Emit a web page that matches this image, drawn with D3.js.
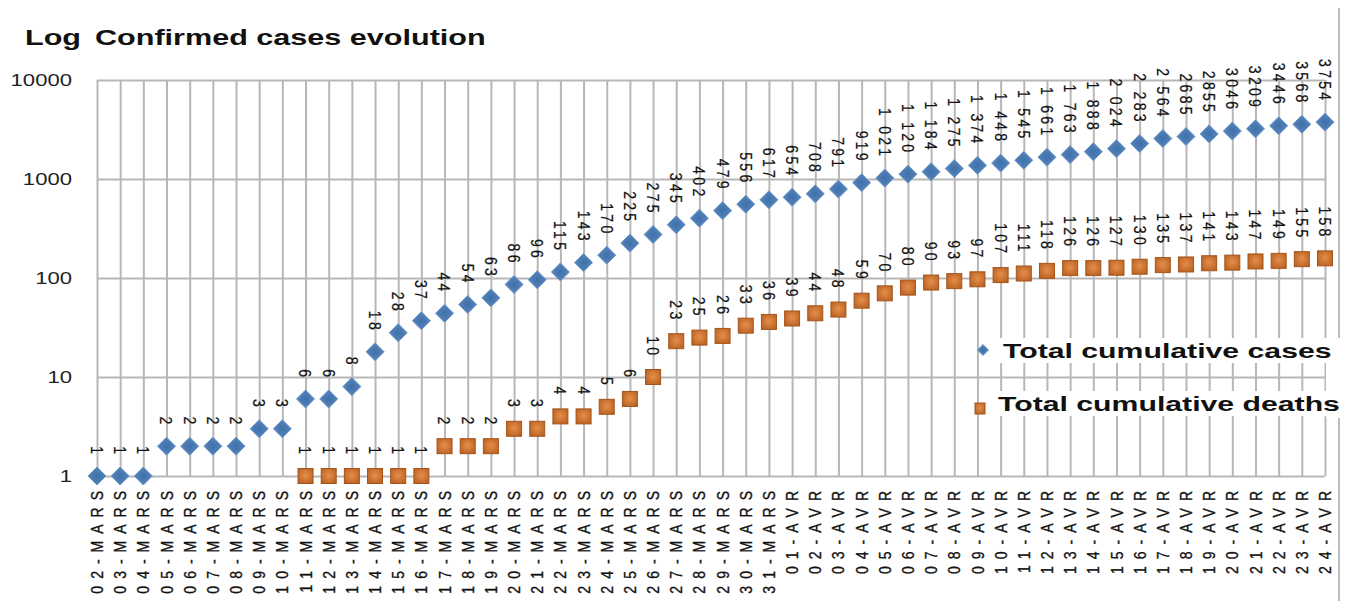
<!DOCTYPE html>
<html>
<head>
<meta charset="utf-8">
<script src="https://cdn.jsdelivr.net/npm/d3@7"></script>
<style>
  html, body { margin: 0; padding: 0; background: #ffffff; }
  svg { display: block; }
</style>
</head>
<body>
<svg id="chart" width="1357" height="601"></svg>
<script>
// Daily dates (March 2 – April 24)
const dates = [
  "02-MARS","03-MARS","04-MARS","05-MARS","06-MARS","07-MARS","08-MARS","09-MARS","10-MARS",
  "11-MARS","12-MARS","13-MARS","14-MARS","15-MARS","16-MARS","17-MARS","18-MARS","19-MARS",
  "20-MARS","21-MARS","22-MARS","23-MARS","24-MARS","25-MARS","26-MARS","27-MARS","28-MARS",
  "29-MARS","30-MARS","31-MARS",
  "01-AVR","02-AVR","03-AVR","04-AVR","05-AVR","06-AVR","07-AVR","08-AVR","09-AVR","10-AVR",
  "11-AVR","12-AVR","13-AVR","14-AVR","15-AVR","16-AVR","17-AVR","18-AVR","19-AVR","20-AVR",
  "21-AVR","22-AVR","23-AVR","24-AVR"
];

// Total cumulative confirmed cases
const cases = [
  1, 1, 1, 2, 2, 2, 2, 3, 3,
  6, 6, 8, 18, 28, 37, 44, 54, 63,
  86, 96, 115, 143, 170, 225, 275, 345, 402,
  479, 556, 617,
  654, 708, 791, 919, 1021, 1120, 1184, 1275, 1374, 1448,
  1545, 1661, 1763, 1888, 2024, 2283, 2564, 2685, 2855, 3046,
  3209, 3446, 3568, 3754
];

// Total cumulative deaths (none recorded before 11-MARS)
const deaths = [
  null, null, null, null, null, null, null, null, null,
  1, 1, 1, 1, 1, 1, 2, 2, 2,
  3, 3, 4, 4, 5, 6, 10, 23, 25,
  26, 33, 36,
  39, 44, 48, 59, 70, 80, 90, 93, 97, 107,
  111, 118, 126, 126, 127, 130, 135, 137, 141, 143,
  147, 149, 155, 158
];

const yTicks = [1, 10, 100, 1000, 10000];
const seriesNames = ["Total cumulative cases", "Total cumulative deaths"];
// Value labels use a spaced thousands separator up to this date
const lastSpacedLabelDate = "17-AVR";

const svg = d3.select("#chart");
const W = 1357, H = 601;
const plot = { left: 97, right: 1325, top: 80, bottom: 476 };

const x = d3.scalePoint().domain(dates).range([plot.left, plot.right]);
const y = d3.scaleLog().domain([1, 10000]).range([plot.bottom, plot.top]);

const gridColor = "#b7b7b7";
const font = "'Liberation Sans', Arial, sans-serif";

// ---- gradients for the markers ----
const defs = svg.append("defs");
const rg = defs.append("radialGradient").attr("id", "sqGrad")
  .attr("cx", "50%").attr("cy", "45%").attr("r", "70%");
rg.append("stop").attr("offset", "0%").attr("stop-color", "#e58e4a");
rg.append("stop").attr("offset", "100%").attr("stop-color", "#b65d1f");
const dg = defs.append("radialGradient").attr("id", "diaGrad")
  .attr("cx", "50%").attr("cy", "50%").attr("r", "60%");
dg.append("stop").attr("offset", "0%").attr("stop-color", "#3f70a8");
dg.append("stop").attr("offset", "100%").attr("stop-color", "#5a89bf");

// ---- grid ----
const vGrid = svg.append("g")
  .attr("transform", `translate(0,${plot.bottom})`)
  .call(d3.axisBottom(x).tickSize(-(plot.bottom - plot.top)).tickFormat(""));
vGrid.select(".domain").remove();
vGrid.selectAll("line").attr("stroke", gridColor).attr("stroke-width", 2);

const hGrid = svg.append("g")
  .attr("transform", `translate(${plot.left},0)`)
  .call(d3.axisLeft(y).tickValues(yTicks).tickSize(-(plot.right - plot.left)).tickFormat(""));
hGrid.select(".domain").remove();
hGrid.selectAll("line").attr("stroke", gridColor).attr("stroke-width", 2);

// right border of the chart area
svg.append("line")
  .attr("x1", 1339).attr("x2", 1339).attr("y1", 8).attr("y2", H)
  .attr("stroke", "#bdbdbd").attr("stroke-width", 2);

// ---- y tick labels ----
svg.append("g").selectAll("text")
  .data(yTicks)
  .join("text")
  .attr("transform", d => `translate(72,${y(d)}) scale(1.3,1)`)
  .attr("text-anchor", "end")
  .attr("dy", "0.36em")
  .attr("font-family", font)
  .attr("font-size", 17)
  .attr("fill", "#222")
  .text(d => d);

// ---- x tick labels (rotated) ----
const xls = 7;
svg.append("g").selectAll("text")
  .data(dates)
  .join("text")
  .attr("transform", d => `translate(${x(d)},${491 - xls}) scale(1.2,1) rotate(-90)`)
  .attr("text-anchor", "end")
  .attr("dy", "0.36em")
  .attr("font-family", font)
  .attr("font-size", 14)
  .attr("letter-spacing", xls)
  .attr("fill", "#111")
  .attr("stroke", "#111").attr("stroke-width", 0.3)
  .text(d => d);

// ---- title ----
svg.append("text")
  .attr("transform", "translate(25,45) scale(1.39,1)")
  .attr("font-family", font).attr("font-weight", "bold").attr("font-size", 22)
  .attr("fill", "#111").text("Log");
svg.append("text")
  .attr("transform", "translate(95,45) scale(1.39,1)")
  .attr("font-family", font).attr("font-weight", "bold").attr("font-size", 22)
  .attr("fill", "#111").text("Confirmed cases evolution");

// ---- label formatting ----
const lastSpacedIdx = dates.indexOf(lastSpacedLabelDate);
function labelText(v, i) {
  if (v >= 1000 && i <= lastSpacedIdx) {
    const s = String(v);
    return s.slice(0, s.length - 3) + " " + s.slice(-3);
  }
  return String(v);
}

const diamond = s => `M0,${-s}L${s},0L0,${s}L${-s},0Z`;

function drawSeries(values, kind) {
  const pts = values.map((v, i) => ({ d: dates[i], v, i })).filter(p => p.v != null);
  const g = svg.append("g");
  if (kind === "diamond") {
    g.selectAll("path").data(pts).join("path")
      .attr("d", diamond(9))
      .attr("transform", p => `translate(${x(p.d)},${y(p.v)})`)
      .attr("fill", "url(#diaGrad)")
      .attr("stroke", "#6b96c8").attr("stroke-width", 1);
  } else {
    g.selectAll("rect").data(pts).join("rect")
      .attr("x", p => x(p.d) - 7.5).attr("y", p => y(p.v) - 7.5)
      .attr("width", 15).attr("height", 15)
      .attr("fill", "url(#sqGrad)")
      .attr("stroke", "#a4541a").attr("stroke-width", 1);
  }
  const ls = 3.3;
  g.selectAll("text").data(pts).join("text")
    .attr("transform", p => `translate(${x(p.d)},${y(p.v) - 22 + ls}) scale(1.2,1) rotate(90)`)
    .attr("text-anchor", "end")
    .attr("dy", "0.36em")
    .attr("font-family", font)
    .attr("font-size", 14)
    .attr("letter-spacing", ls)
    .attr("fill", "#111")
    .attr("stroke", "#111").attr("stroke-width", 0.2)
    .text(p => labelText(p.v, p.i));
}

drawSeries(cases, "diamond");
drawSeries(deaths, "square");

// ---- legend ----
const legend = svg.append("g");
legend.append("rect").attr("x", 1326).attr("y", 338).attr("width", 20).attr("height", 80).attr("fill", "#fff");
legend.append("rect").attr("x", 988).attr("y", 338).attr("width", 358).attr("height", 25).attr("fill", "#fff");
legend.append("rect").attr("x", 988).attr("y", 391).attr("width", 358).attr("height", 25).attr("fill", "#fff");

legend.append("path")
  .attr("d", diamond(5.5))
  .attr("transform", "translate(983,350)")
  .attr("fill", "url(#diaGrad)").attr("stroke", "#6b96c8").attr("stroke-width", 1);
legend.append("rect")
  .attr("x", 975).attr("y", 403).attr("width", 10).attr("height", 11)
  .attr("fill", "url(#sqGrad)").attr("stroke", "#a4541a").attr("stroke-width", 1);

legend.append("text")
  .attr("transform", "translate(1003,358) scale(1.55,1)")
  .attr("font-family", font).attr("font-weight", "bold").attr("font-size", 19.5)
  .attr("fill", "#111").text(seriesNames[0]);
legend.append("text")
  .attr("transform", "translate(998,411) scale(1.55,1)")
  .attr("font-family", font).attr("font-weight", "bold").attr("font-size", 19.5)
  .attr("fill", "#111").text(seriesNames[1]);
</script>
</body>
</html>
